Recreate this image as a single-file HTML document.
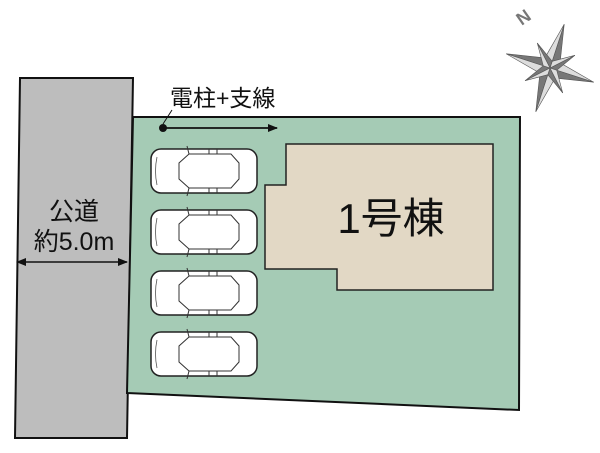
<!DOCTYPE html>
<html><head><meta charset="utf-8"><style>
body{margin:0;background:#fff;width:600px;height:453px;overflow:hidden}
svg{display:block}
text{font-family:"Liberation Sans","Noto Sans CJK JP",sans-serif}
</style></head><body>
<svg width="600" height="453" viewBox="0 0 600 453">
<defs>
<marker id="ah" markerWidth="10" markerHeight="8" refX="9" refY="4" orient="auto" markerUnits="userSpaceOnUse"><path d="M0,0 L10,4 L0,8 Z" fill="#111"/></marker>
<marker id="ahs" markerWidth="10" markerHeight="8" refX="1" refY="4" orient="auto" markerUnits="userSpaceOnUse"><path d="M10,0 L0,4 L10,8 Z" fill="#111"/></marker>
<g id="car">
<rect x="0" y="0" width="106" height="44" rx="10" fill="#fff" stroke="#222" stroke-width="1.5"/>
<path d="M38,5 L28,14 L28,30 L38,39" fill="none" stroke="#333" stroke-width="1"/>
<path d="M38,5 L80,5 L88,14 L88,30 L80,39 L38,39" fill="none" stroke="#333" stroke-width="1"/>
<line x1="58" y1="5" x2="58" y2="0" stroke="#333"/><line x1="58" y1="39" x2="58" y2="44" stroke="#333"/>
<line x1="66" y1="5" x2="66" y2="0" stroke="#333"/><line x1="66" y1="39" x2="66" y2="44" stroke="#333"/>
<path d="M38,5 L36,-3 M38,39 L36,47" stroke="#333" stroke-width="1"/>
<path d="M6,8 Q3,22 6,36" fill="none" stroke="#555" stroke-width="0.8"/>
</g>
</defs>
<polygon points="20,78 133,78 127,438 15,438" fill="#bdbdbd" stroke="#111" stroke-width="2"/>
<polygon points="133,117 520,117 519,410 127,393" fill="#a5cbb5" stroke="#111" stroke-width="2"/>
<polygon points="286,144 493,144 493,290 337,290 337,269 265,269 265,185 286,185" fill="#e2d8c5" stroke="#222" stroke-width="1.5"/>
<text x="391" y="233" font-size="42" text-anchor="middle" fill="#111">1号棟</text>
<use href="#car" x="151" y="149"/>
<use href="#car" x="151" y="210"/>
<use href="#car" x="151" y="271"/>
<use href="#car" x="151" y="332"/>
<circle cx="163" cy="128" r="4" fill="#111"/>
<line x1="163" y1="128" x2="277" y2="128" stroke="#111" stroke-width="1.8" marker-end="url(#ah)"/>
<line x1="163" y1="124" x2="172" y2="110" stroke="#111" stroke-width="1"/>
<text x="170" y="106" font-size="23" fill="#111">電柱+支線</text>
<text x="74" y="220" font-size="25" text-anchor="middle" fill="#111">公道</text>
<text x="74" y="250" font-size="25" text-anchor="middle" fill="#111">約5.0m</text>
<line x1="17" y1="262" x2="127" y2="262" stroke="#111" stroke-width="1.5" marker-start="url(#ahs)" marker-end="url(#ah)"/>
<g transform="translate(550,68) rotate(18)" fill="#777" stroke="#555" stroke-width="0.6">
<polygon points="0,-46 8,-8 0,0"/><polygon points="0,-46 -8,-8 0,0" fill="#ddd"/>
<polygon points="46,0 8,8 0,0"/><polygon points="46,0 8,-8 0,0" fill="#ddd"/>
<polygon points="0,46 -8,8 0,0"/><polygon points="0,46 8,8 0,0" fill="#ddd"/>
<polygon points="-46,0 -8,-8 0,0"/><polygon points="-46,0 -8,8 0,0" fill="#ddd"/>
<g transform="rotate(45)"><polygon points="0,-28 5,-5 0,0"/><polygon points="0,-28 -5,-5 0,0" fill="#ddd"/><polygon points="28,0 5,5 0,0"/><polygon points="28,0 5,-5 0,0" fill="#ddd"/><polygon points="0,28 -5,5 0,0"/><polygon points="0,28 5,5 0,0" fill="#ddd"/><polygon points="-28,0 -5,-5 0,0"/><polygon points="-28,0 -5,5 0,0" fill="#ddd"/></g>
</g>
<text x="516" y="24" font-size="18" font-weight="bold" fill="#777" transform="rotate(-35 522 16)">N</text>
</svg>
</body></html>
